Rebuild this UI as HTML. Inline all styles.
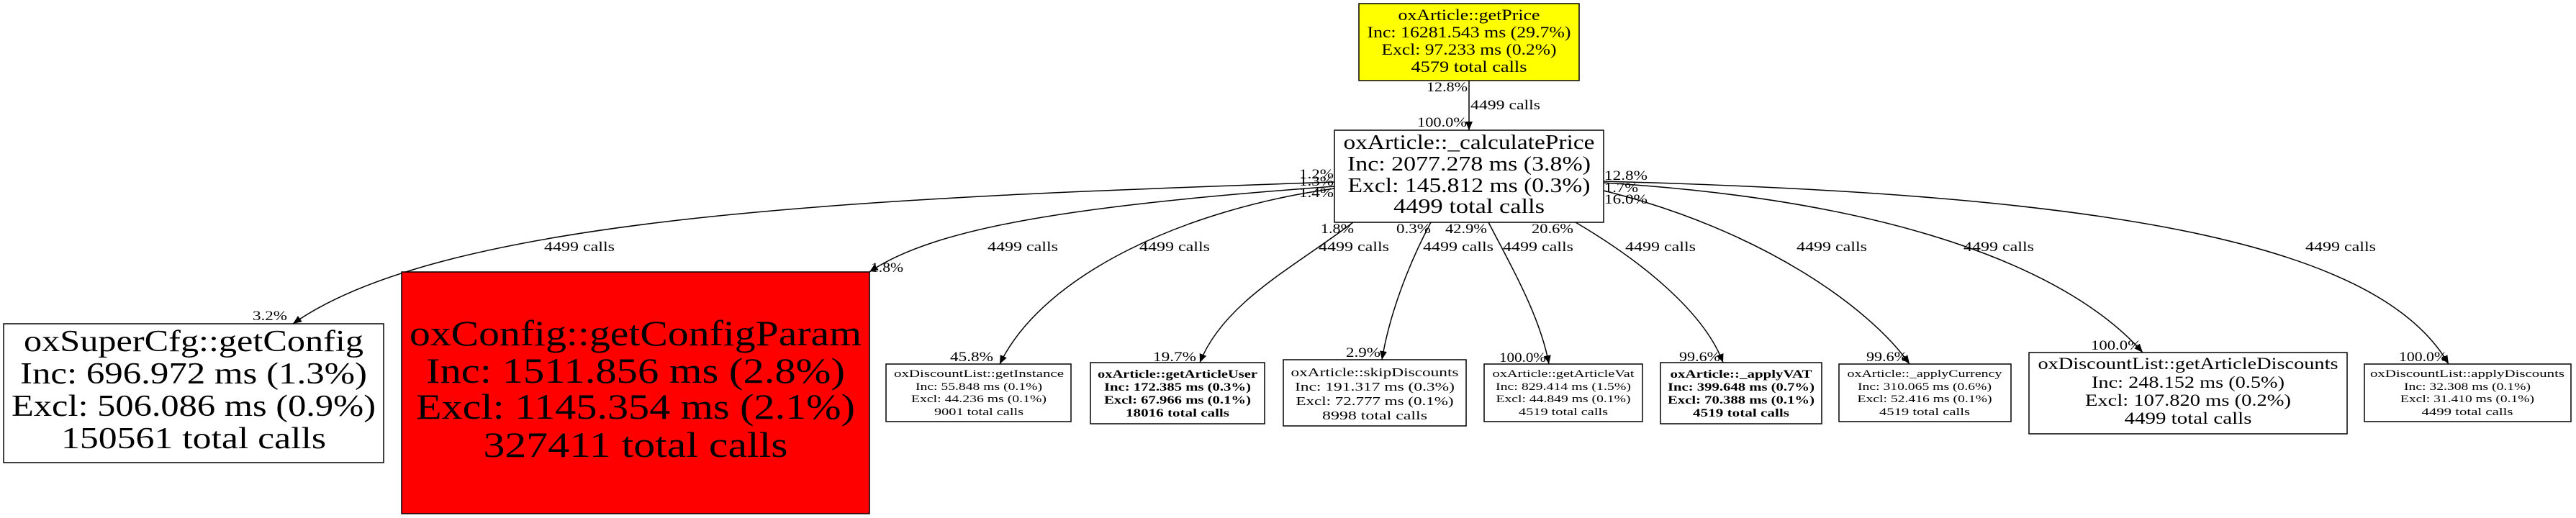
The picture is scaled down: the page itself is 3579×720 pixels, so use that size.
<!DOCTYPE html>
<html><head><meta charset="utf-8"><style>html,body{margin:0;padding:0;background:#fff}svg{display:block}</style></head>
<body>
<svg width="3579" height="720" viewBox="0 0 3579 720" xmlns="http://www.w3.org/2000/svg" font-family="'Liberation Serif', serif">
<defs>
<marker id="a" markerUnits="userSpaceOnUse" markerWidth="14" markerHeight="12" refX="12" refY="5" orient="auto">
<path d="M0,0 L12,5 L0,10 z" fill="#000"/>
</marker>
</defs>
<rect width="3579" height="720" fill="#fff"/>
<g fill="none" stroke="#000" stroke-width="1.5" marker-end="url(#a)">
<path d="M2041,112 L2041,181"/>
<path d="M1854,253 C1200,275 620,300 407,450"/>
<path d="M1854,259 C1500,285 1300,315 1208,378"/>
<path d="M1854,262 C1650,290 1450,380 1389,506"/>
<path d="M1880,309 C1800,370 1700,420 1667,504"/>
<path d="M1988,309 C1955,371 1930,440 1920,500"/>
<path d="M2068,309 C2100,371 2140,440 2152,506"/>
<path d="M2189,309 C2294,371 2370,440 2394,504"/>
<path d="M2228,265 C2450,320 2600,430 2653,506"/>
<path d="M2228,254 C2650,280 2880,380 2977,490"/>
<path d="M2228,252 C2900,270 3300,330 3402,506"/>
</g>
<g stroke="#000" stroke-width="1.5">
<rect x="1888" y="5" width="306" height="107" fill="#ffff00"/>
<rect x="1854" y="181" width="374" height="128" fill="#fff"/>
<rect x="5" y="450" width="528" height="193" fill="#fff"/>
<rect x="558" y="378" width="650" height="336" fill="#ff0000"/>
<rect x="1231" y="506" width="257" height="80" fill="#fff"/>
<rect x="1515" y="504" width="242" height="85" fill="#fff"/>
<rect x="1783" y="500" width="254" height="92" fill="#fff"/>
<rect x="2062" y="506" width="220" height="80" fill="#fff"/>
<rect x="2307" y="504" width="224" height="85" fill="#fff"/>
<rect x="2555" y="506" width="239" height="80" fill="#fff"/>
<rect x="2819" y="490" width="442" height="113" fill="#fff"/>
<rect x="3285" y="506" width="287" height="80" fill="#fff"/>
</g>
<g text-anchor="middle" fill="#000">
<g font-size="22">
<text x="2041" y="28" textLength="197" lengthAdjust="spacingAndGlyphs">oxArticle::getPrice</text>
<text x="2041" y="52" textLength="283" lengthAdjust="spacingAndGlyphs">Inc: 16281.543 ms (29.7%)</text>
<text x="2041" y="76" textLength="243" lengthAdjust="spacingAndGlyphs">Excl: 97.233 ms (0.2%)</text>
<text x="2041" y="100" textLength="161" lengthAdjust="spacingAndGlyphs">4579 total calls</text>
</g>
<g font-size="29">
<text x="2041" y="207" textLength="349" lengthAdjust="spacingAndGlyphs">oxArticle::_calculatePrice</text>
<text x="2041" y="237" textLength="338" lengthAdjust="spacingAndGlyphs">Inc: 2077.278 ms (3.8%)</text>
<text x="2041" y="267" textLength="337" lengthAdjust="spacingAndGlyphs">Excl: 145.812 ms (0.3%)</text>
<text x="2041" y="296" textLength="210" lengthAdjust="spacingAndGlyphs">4499 total calls</text>
</g>
<g font-size="42">
<text x="269" y="488" textLength="472" lengthAdjust="spacingAndGlyphs">oxSuperCfg::getConfig</text>
<text x="269" y="533" textLength="482" lengthAdjust="spacingAndGlyphs">Inc: 696.972 ms (1.3%)</text>
<text x="269" y="578" textLength="506" lengthAdjust="spacingAndGlyphs">Excl: 506.086 ms (0.9%)</text>
<text x="269" y="623" textLength="368" lengthAdjust="spacingAndGlyphs">150561 total calls</text>
</g>
<g font-size="50">
<text x="883" y="480" textLength="628" lengthAdjust="spacingAndGlyphs">oxConfig::getConfigParam</text>
<text x="883" y="532" textLength="582" lengthAdjust="spacingAndGlyphs">Inc: 1511.856 ms (2.8%)</text>
<text x="883" y="582" textLength="610" lengthAdjust="spacingAndGlyphs">Excl: 1145.354 ms (2.1%)</text>
<text x="883" y="635" textLength="423" lengthAdjust="spacingAndGlyphs">327411 total calls</text>
</g>
<g font-size="15">
<text x="1360" y="524" textLength="236" lengthAdjust="spacingAndGlyphs">oxDiscountList::getInstance</text>
<text x="1360" y="542" textLength="176" lengthAdjust="spacingAndGlyphs">Inc: 55.848 ms (0.1%)</text>
<text x="1360" y="559" textLength="188" lengthAdjust="spacingAndGlyphs">Excl: 44.236 ms (0.1%)</text>
<text x="1360" y="577" textLength="124" lengthAdjust="spacingAndGlyphs">9001 total calls</text>
<text x="2172" y="524" textLength="197" lengthAdjust="spacingAndGlyphs">oxArticle::getArticleVat</text>
<text x="2172" y="542" textLength="188" lengthAdjust="spacingAndGlyphs">Inc: 829.414 ms (1.5%)</text>
<text x="2172" y="559" textLength="187" lengthAdjust="spacingAndGlyphs">Excl: 44.849 ms (0.1%)</text>
<text x="2172" y="577" textLength="124" lengthAdjust="spacingAndGlyphs">4519 total calls</text>
<text x="2674" y="524" textLength="215" lengthAdjust="spacingAndGlyphs">oxArticle::_applyCurrency</text>
<text x="2674" y="542" textLength="186" lengthAdjust="spacingAndGlyphs">Inc: 310.065 ms (0.6%)</text>
<text x="2674" y="559" textLength="187" lengthAdjust="spacingAndGlyphs">Excl: 52.416 ms (0.1%)</text>
<text x="2674" y="577" textLength="126" lengthAdjust="spacingAndGlyphs">4519 total calls</text>
<text x="3428" y="524" textLength="270" lengthAdjust="spacingAndGlyphs">oxDiscountList::applyDiscounts</text>
<text x="3428" y="542" textLength="176" lengthAdjust="spacingAndGlyphs">Inc: 32.308 ms (0.1%)</text>
<text x="3428" y="559" textLength="186" lengthAdjust="spacingAndGlyphs">Excl: 31.410 ms (0.1%)</text>
<text x="3428" y="577" textLength="127" lengthAdjust="spacingAndGlyphs">4499 total calls</text>
</g>
<g font-size="16" font-weight="bold">
<text x="1636" y="525" textLength="222" lengthAdjust="spacingAndGlyphs">oxArticle::getArticleUser</text>
<text x="1636" y="543" textLength="204" lengthAdjust="spacingAndGlyphs">Inc: 172.385 ms (0.3%)</text>
<text x="1636" y="561" textLength="204" lengthAdjust="spacingAndGlyphs">Excl: 67.966 ms (0.1%)</text>
<text x="1636" y="579" textLength="144" lengthAdjust="spacingAndGlyphs">18016 total calls</text>
<text x="2419" y="525" textLength="197" lengthAdjust="spacingAndGlyphs">oxArticle::_applyVAT</text>
<text x="2419" y="543" textLength="204" lengthAdjust="spacingAndGlyphs">Inc: 399.648 ms (0.7%)</text>
<text x="2419" y="561" textLength="204" lengthAdjust="spacingAndGlyphs">Excl: 70.388 ms (0.1%)</text>
<text x="2419" y="579" textLength="134" lengthAdjust="spacingAndGlyphs">4519 total calls</text>
</g>
<g font-size="17">
<text x="1910" y="523" textLength="233" lengthAdjust="spacingAndGlyphs">oxArticle::skipDiscounts</text>
<text x="1910" y="543" textLength="222" lengthAdjust="spacingAndGlyphs">Inc: 191.317 ms (0.3%)</text>
<text x="1910" y="563" textLength="219" lengthAdjust="spacingAndGlyphs">Excl: 72.777 ms (0.1%)</text>
<text x="1910" y="583" textLength="146" lengthAdjust="spacingAndGlyphs">8998 total calls</text>
</g>
<g font-size="23">
<text x="3040" y="513" textLength="417" lengthAdjust="spacingAndGlyphs">oxDiscountList::getArticleDiscounts</text>
<text x="3040" y="539" textLength="268" lengthAdjust="spacingAndGlyphs">Inc: 248.152 ms (0.5%)</text>
<text x="3040" y="564" textLength="286" lengthAdjust="spacingAndGlyphs">Excl: 107.820 ms (0.2%)</text>
<text x="3040" y="589" textLength="177" lengthAdjust="spacingAndGlyphs">4499 total calls</text>
</g>
</g>
<g font-size="19" fill="#000">
<text x="1982" y="127" textLength="57" lengthAdjust="spacingAndGlyphs">12.8%</text>
<text x="2043" y="152" textLength="97" lengthAdjust="spacingAndGlyphs">4499 calls</text>
<text x="1969" y="176" textLength="69" lengthAdjust="spacingAndGlyphs">100.0%</text>
<text x="351" y="445" textLength="48" lengthAdjust="spacingAndGlyphs">3.2%</text>
<text x="1210" y="378" textLength="45" lengthAdjust="spacingAndGlyphs">1.8%</text>
<text x="1320" y="502" textLength="60" lengthAdjust="spacingAndGlyphs">45.8%</text>
<text x="1602" y="502" textLength="60" lengthAdjust="spacingAndGlyphs">19.7%</text>
<text x="1870" y="496" textLength="48" lengthAdjust="spacingAndGlyphs">2.9%</text>
<text x="2083" y="503" textLength="65" lengthAdjust="spacingAndGlyphs">100.0%</text>
<text x="2333" y="502" textLength="57" lengthAdjust="spacingAndGlyphs">99.6%</text>
<text x="2593" y="502" textLength="57" lengthAdjust="spacingAndGlyphs">99.6%</text>
<text x="2905" y="486" textLength="70" lengthAdjust="spacingAndGlyphs">100.0%</text>
<text x="3333" y="502" textLength="67" lengthAdjust="spacingAndGlyphs">100.0%</text>
<text x="1835" y="324" textLength="46" lengthAdjust="spacingAndGlyphs">1.8%</text>
<text x="1940" y="324" textLength="48" lengthAdjust="spacingAndGlyphs">0.3%</text>
<text x="2008" y="324" textLength="58" lengthAdjust="spacingAndGlyphs">42.9%</text>
<text x="2128" y="324" textLength="58" lengthAdjust="spacingAndGlyphs">20.6%</text>
<text x="1805" y="248" textLength="48" lengthAdjust="spacingAndGlyphs">1.2%</text>
<text x="1805" y="258" textLength="48" lengthAdjust="spacingAndGlyphs">1.3%</text>
<text x="1805" y="274" textLength="48" lengthAdjust="spacingAndGlyphs">1.4%</text>
<text x="2229" y="250" textLength="60" lengthAdjust="spacingAndGlyphs">12.8%</text>
<text x="2229" y="267" textLength="47" lengthAdjust="spacingAndGlyphs">1.7%</text>
<text x="2229" y="283" textLength="60" lengthAdjust="spacingAndGlyphs">16.0%</text>
<text x="756" y="349" textLength="98" lengthAdjust="spacingAndGlyphs">4499 calls</text>
<text x="1372" y="349" textLength="98" lengthAdjust="spacingAndGlyphs">4499 calls</text>
<text x="1583" y="349" textLength="98" lengthAdjust="spacingAndGlyphs">4499 calls</text>
<text x="1832" y="349" textLength="98" lengthAdjust="spacingAndGlyphs">4499 calls</text>
<text x="1977" y="349" textLength="98" lengthAdjust="spacingAndGlyphs">4499 calls</text>
<text x="2088" y="349" textLength="98" lengthAdjust="spacingAndGlyphs">4499 calls</text>
<text x="2258" y="349" textLength="98" lengthAdjust="spacingAndGlyphs">4499 calls</text>
<text x="2496" y="349" textLength="98" lengthAdjust="spacingAndGlyphs">4499 calls</text>
<text x="2728" y="349" textLength="98" lengthAdjust="spacingAndGlyphs">4499 calls</text>
<text x="3203" y="349" textLength="98" lengthAdjust="spacingAndGlyphs">4499 calls</text>
</g>
</svg>
</body></html>
